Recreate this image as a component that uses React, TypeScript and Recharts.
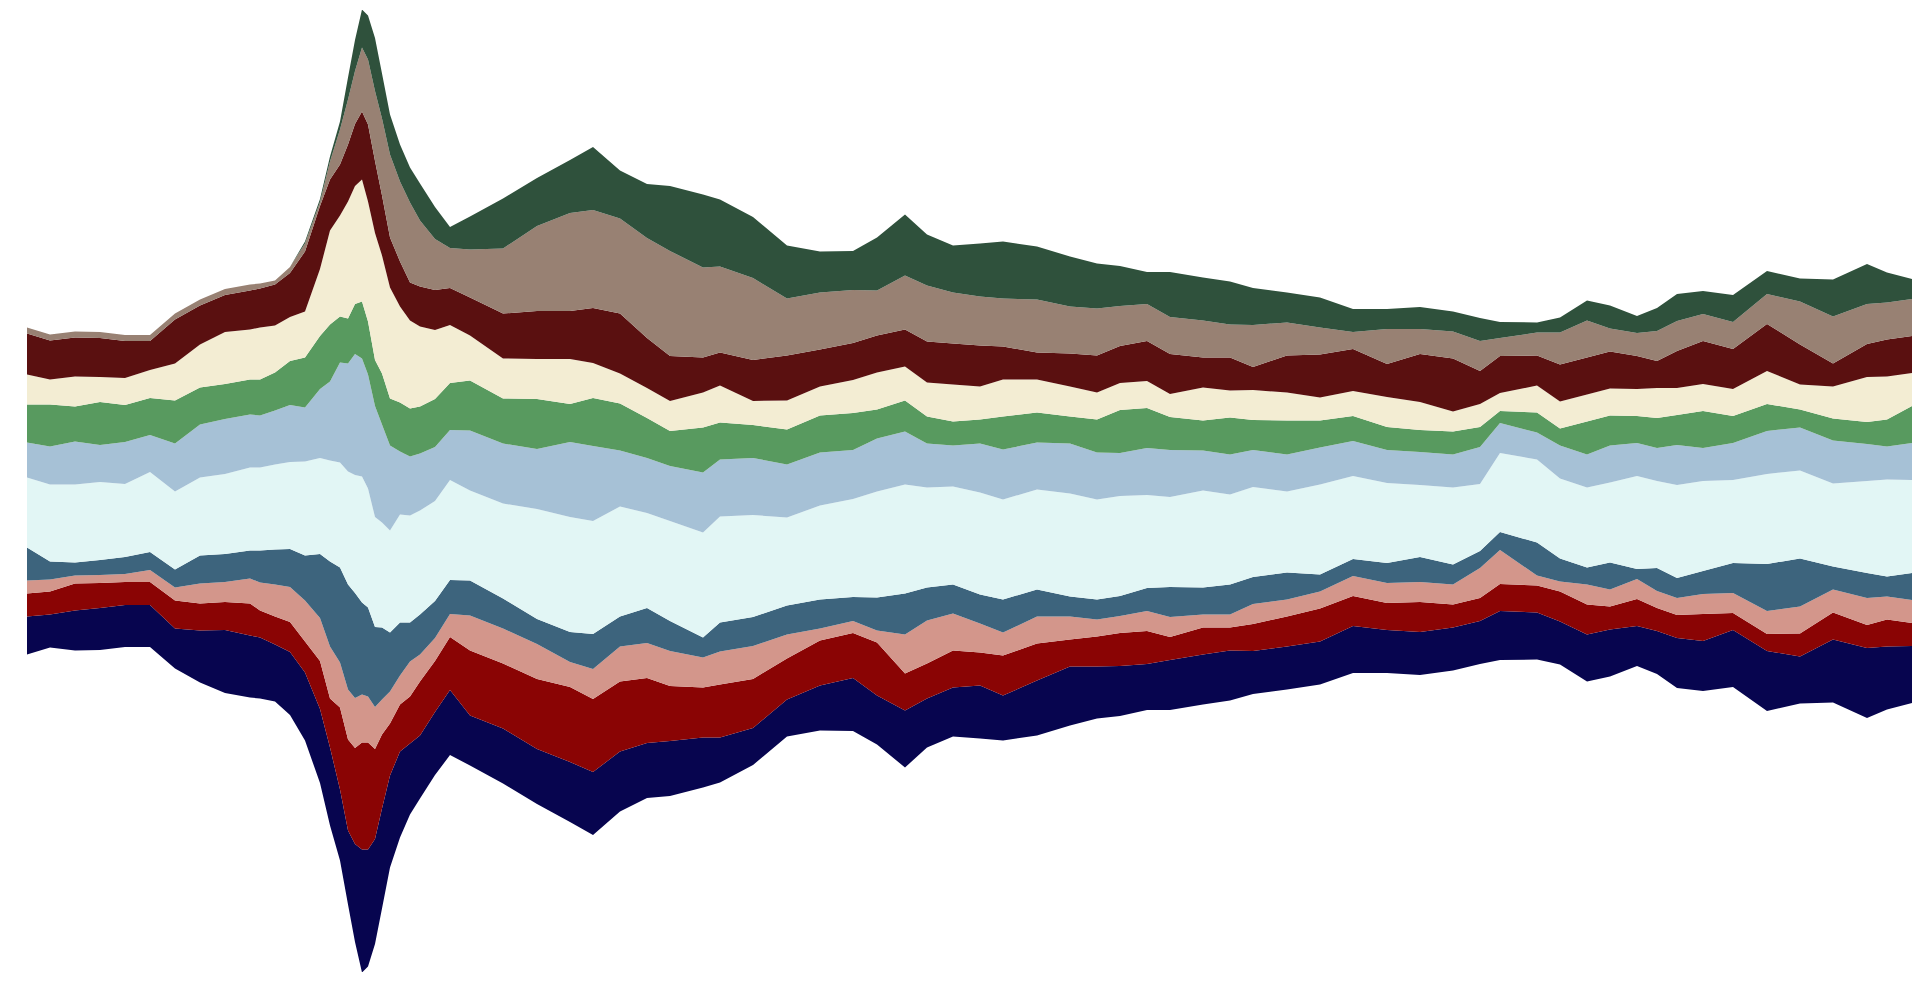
import { AreaChart, Area, XAxis, YAxis } from 'recharts';

// time index of each sample
const days = [
  0, 23, 48, 73, 98, 123, 148, 173, 198, 223,
  233, 248, 263, 278, 293, 303, 313, 321, 328, 335,
  341, 348, 355, 363, 373, 383, 393, 408, 423, 443,
  476, 510, 543, 566, 593, 620, 643, 676, 693, 726,
  760, 793, 826, 850, 878, 900, 926, 953, 976, 1010,
  1043, 1070, 1093, 1120, 1143, 1176, 1203, 1226, 1260, 1293,
  1326, 1360, 1393, 1426, 1453, 1473, 1510, 1533, 1560, 1583,
  1610, 1630, 1650, 1676, 1706, 1740, 1773, 1806, 1840, 1860,
  1885,
];

// layer values, bottom of the stream first
const navy = [
  38, 33, 40, 42, 42, 42, 40, 52, 63, 62,
  61, 57, 63, 68, 74, 78, 71, 74, 98, 123,
  117, 105, 100, 92, 86, 71, 63, 63, 65, 50,
  55, 55, 60, 63, 60, 55, 55, 50, 45, 37,
  37, 45, 53, 49, 57, 49, 49, 53, 45, 55,
  59, 52, 50, 46, 50, 50, 50, 43, 43, 43,
  47, 43, 43, 43, 43, 49, 47, 43, 47, 47,
  40, 43, 50, 50, 57, 60, 47, 63, 70, 63,
  57,
];
const red = [
  23, 23, 27, 25, 23, 23, 28, 27, 28, 32,
  27, 28, 30, 31, 48, 49, 82, 91, 96, 107,
  107, 90, 74, 52, 47, 47, 54, 51, 53, 65,
  65, 70, 75, 73, 70, 65, 55, 50, 53, 49,
  41, 45, 45, 53, 37, 35, 37, 33, 40, 37,
  27, 30, 33, 33, 23, 27, 23, 27, 30, 33,
  30, 27, 30, 23, 23, 27, 27, 30, 30, 23,
  27, 23, 23, 27, 17, 17, 23, 27, 23, 27,
  23,
];
const salmon = [
  13, 12, 8, 8, 8, 12, 13, 20, 20, 25,
  28, 32, 35, 41, 43, 52, 45, 50, 50, 48,
  46, 42, 35, 32, 29, 35, 27, 23, 23, 35,
  35, 35, 25, 30, 35, 35, 35, 30, 33, 33,
  24, 12, 12, 12, 39, 43, 37, 29, 23, 27,
  23, 17, 17, 20, 20, 13, 13, 20, 17, 17,
  20, 20, 20, 20, 30, 34, 10, 10, 20, 17,
  20, 17, 17, 20, 20, 23, 27, 23, 27, 23,
  23,
];
const steelBlue = [
  33, 18, 13, 15, 17, 18, 18, 28, 28, 28,
  32, 35, 38, 45, 64, 85, 95, 105, 105, 92,
  89, 80, 72, 59, 53, 39, 40, 37, 34, 35,
  30, 25, 30, 35, 30, 35, 30, 20, 29, 29,
  29, 29, 24, 33, 41, 33, 29, 29, 33, 27,
  20, 20, 20, 23, 30, 27, 30, 27, 27, 17,
  17, 20, 25, 20, 17, 18, 33, 23, 17, 27,
  10, 23, 20, 23, 30, 47, 48, 23, 25, 20,
  27,
];
const lightCyan = [
  70, 77, 78, 78, 73, 80, 78, 78, 80, 83,
  83, 85, 87, 94, 96, 101, 105, 113, 118, 126,
  119, 110, 105, 102, 108, 107, 104, 100, 100, 90,
  95, 110, 115, 113, 110, 95, 100, 105, 106, 102,
  88, 94, 98, 106, 109, 100, 98, 102, 100, 100,
  103, 100, 100, 93, 90, 97, 90, 90, 81, 90,
  83, 80, 72, 77, 67, 79, 83, 80, 80, 80,
  93, 87, 93, 90, 83, 90, 88, 83, 92, 97,
  93,
];
const lightBlue = [
  35, 38, 43, 37, 42, 37, 48, 53, 55, 53,
  52, 54, 57, 54, 69, 79, 100, 108, 121, 118,
  114, 111, 98, 85, 63, 59, 57, 54, 50, 60,
  60, 60, 75, 75, 56, 55, 55, 60, 57, 57,
  53, 53, 49, 53, 53, 44, 41, 49, 50, 47,
  50, 47, 43, 47, 47, 40, 40, 37, 37, 37,
  35, 33, 33, 33, 37, 30, 27, 33, 33, 37,
  33, 33, 40, 33, 37, 43, 43, 43, 37, 33,
  37,
];
const green = [
  38, 42, 35, 43, 37, 37, 43, 37, 35, 35,
  36, 38, 44, 50, 53, 57, 46, 45, 50, 57,
  53, 46, 51, 47, 49, 48, 47, 48, 47, 50,
  45, 50, 38, 48, 47, 40, 35, 45, 37, 33,
  35, 37, 37, 29, 31, 27, 24, 24, 33, 30,
  27, 33, 43, 40, 33, 30, 37, 30, 34, 27,
  25, 23, 22, 23, 20, 12, 20, 17, 33, 30,
  27, 30, 30, 37, 27, 27, 18, 22, 22, 27,
  37,
];
const cream = [
  30, 25, 30, 25, 27, 28, 37, 43, 52, 50,
  52, 47, 44, 46, 67, 94, 101, 117, 118, 122,
  120, 127, 118, 111, 96, 88, 80, 69, 58, 45,
  40, 40, 45, 35, 30, 30, 30, 35, 37, 24,
  29, 29, 33, 37, 34, 34, 37, 33, 37, 33,
  30, 27, 27, 27, 23, 33, 27, 30, 28, 23,
  25, 30, 28, 20, 23, 18, 27, 27, 27, 27,
  27, 30, 27, 27, 27, 33, 25, 32, 45, 43,
  33,
];
const maroon = [
  41, 39, 39, 39, 37, 29, 44, 39, 37, 39,
  39, 41, 44, 60, 63, 51, 51, 57, 62, 68,
  77, 72, 60, 50, 45, 38, 40, 40, 37, 38,
  45, 48, 48, 55, 60, 50, 45, 35, 33, 41,
  45, 37, 37, 37, 37, 41, 41, 41, 33, 27,
  33, 37, 37, 40, 40, 30, 33, 23, 37, 43,
  42, 33, 48, 53, 33, 37, 30, 37, 37, 37,
  33, 27, 37, 43, 40, 47, 40, 23, 33, 37,
  37,
];
const taupe = [
  6, 6, 6, 6, 6, 6, 6, 6, 6, 6,
  5, 4, 6, 8, 4, 18, 35, 45, 53, 64,
  65, 70, 77, 83, 80, 80, 66, 51, 40, 48,
  65, 85, 98, 98, 95, 100, 105, 90, 86, 82,
  57, 57, 53, 45, 54, 56, 51, 49, 48, 53,
  47, 47, 40, 37, 37, 37, 33, 42, 33, 27,
  17, 35, 25, 27, 30, 18, 23, 32, 37, 23,
  23, 30, 30, 27, 27, 30, 43, 47, 40, 37,
  37,
];
const darkGreen = [
  0, 0, 0, 0, 0, 0, 0, 0, 0, 0,
  0, 0, 0, 2, 3, 5, 8, 22, 31, 38,
  44, 53, 45, 40, 37, 35, 37, 32, 21, 33,
  50, 48, 53, 63, 48, 54, 65, 73, 67, 61,
  53, 41, 39, 53, 61, 51, 47, 53, 57, 53,
  50, 45, 40, 32, 45, 43, 43, 37, 30, 30,
  23, 20, 22, 20, 23, 16, 10, 15, 20, 23,
  17, 23, 27, 23, 27, 23, 23, 37, 40, 30,
  20,
];

const layers = [
  { key: 'navy', values: navy, color: '#07054f' },
  { key: 'red', values: red, color: '#8a0404' },
  { key: 'salmon', values: salmon, color: '#d3968b' },
  { key: 'steelBlue', values: steelBlue, color: '#3d647d' },
  { key: 'lightCyan', values: lightCyan, color: '#e2f6f5' },
  { key: 'lightBlue', values: lightBlue, color: '#a6c1d6' },
  { key: 'green', values: green, color: '#589a5f' },
  { key: 'cream', values: cream, color: '#f3edd3' },
  { key: 'maroon', values: maroon, color: '#5a1010' },
  { key: 'taupe', values: taupe, color: '#988173' },
  { key: 'darkGreen', values: darkGreen, color: '#2f513c' },
];

const data = days.map((t, i) => {
  const row: Record<string, number> = { t };
  layers.forEach(l => { row[l.key] = l.values[i]; });
  return row;
});

export default function App() {
  return (
    <div style={{ position: 'absolute', left: 0, top: 0, background: '#fff' }}>
      <AreaChart
        width={1912}
        height={984}
        data={data}
        stackOffset="silhouette"
        margin={{ top: 10, right: 0, bottom: 12, left: 27 }}
      >
        <XAxis dataKey="t" type="number" domain={[0, 1885]} hide />
        <YAxis type="number" domain={[-481, 481]} allowDataOverflow hide />
        {layers.map(l => (
          <Area
            key={l.key}
            dataKey={l.key}
            stackId="stream"
            type="linear"
            fill={l.color}
            fillOpacity={1}
            stroke="none"
            isAnimationActive={false}
          />
        ))}
      </AreaChart>
    </div>
  );
}
